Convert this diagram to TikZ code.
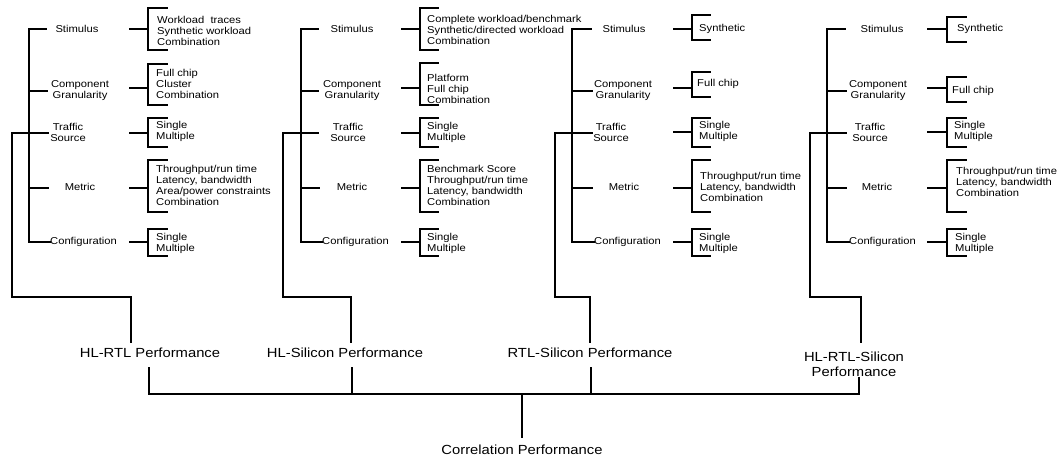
\documentclass[tikz,border=0pt]{standalone}
\usepackage{fontspec}
\setmainfont{Liberation Sans}[FakeStretch=1.12]
\begin{document}
\begin{tikzpicture}[x=1pt,y=-1pt,
  ln/.style={line width=2.5pt,line cap=rect},
  bus/.style={line width=2pt},
  lab/.style={font=\fontsize{10}{11}\selectfont,inner sep=0pt,align=center},
  lst/.style={font=\fontsize{10}{11}\selectfont,inner sep=0pt,align=left,anchor=west},
  big/.style={font=\fontsize{13.2}{15}\selectfont,inner sep=0pt,align=center}]
\useasboundingbox (0,0) rectangle (1058,457);
\fill[white] (0,0) rectangle (1058,457);

% ================= Panel 1 =================
\draw[ln] (29,29) -- (29,242);
\draw[ln] (29,29) -- (46,29);
\draw[ln] (29,91) -- (47,91);
\draw[ln] (29,133) -- (48,133);
\draw[ln] (29,188) -- (48,188);
\draw[ln] (29,242) -- (50,242);
\draw[ln] (29,133) -- (12,133) -- (12,297) -- (131,297) -- (131,342);
\node[lab] (a1) at (77,29) {Stimulus};
\node[lab] (a2) at (80,91) {Component\\Granularity};
\node[lab] (a3) at (68,132) {Traffic\\Source};
\node[lab] (a4) at (80,187) {Metric};
\node[lab,anchor=west] (a5) at (50,242) {Configuration};
\draw[ln] (130,29) -- (148,29);  \draw[ln] (167,8) -- (148,8) -- (148,50) -- (167,50);
\draw[ln] (130,88) -- (148,88);  \draw[ln] (167,64) -- (148,64) -- (148,105) -- (167,105);
\draw[ln] (130,133) -- (148,133); \draw[ln] (167,118) -- (148,118) -- (148,147) -- (167,147);
\draw[ln] (130,188) -- (148,188); \draw[ln] (167,160) -- (148,160) -- (148,212) -- (167,212);
\draw[ln] (130,242) -- (148,242); \draw[ln] (167,229) -- (148,229) -- (148,256) -- (167,256);
\node[lst] (l11) at (157,31) {Workload\ \ traces\\Synthetic workload\\Combination};
\node[lst] (l12) at (156,84) {Full chip\\Cluster\\Combination};
\node[lst] (l13) at (156,131) {Single\\Multiple};
\node[lst] (l14) at (156,185) {Throughput/run time\\Latency, bandwidth\\Area/power constraints\\Combination};
\node[lst] (l15) at (156,243) {Single\\Multiple};

% ================= Panel 2 =================
\draw[ln] (301,29) -- (301,242);
\draw[ln] (301,29) -- (318,29);
\draw[ln] (301,91) -- (318,91);
\draw[ln] (301,133) -- (318,133);
\draw[ln] (301,188) -- (319,188);
\draw[ln] (301,242) -- (322,242);
\draw[ln] (301,133) -- (283,133) -- (283,297) -- (351,297) -- (351,342);
\node[lab] (b1) at (352,29) {Stimulus};
\node[lab] (b2) at (352,91) {Component\\Granularity};
\node[lab] (b3) at (348,132) {Traffic\\Source};
\node[lab] (b4) at (352,187) {Metric};
\node[lab,anchor=west] (b5) at (322,242) {Configuration};
\draw[ln] (402,29) -- (420,29);  \draw[ln] (438,8) -- (420,8) -- (420,50) -- (438,50);
\draw[ln] (402,88) -- (420,88);  \draw[ln] (438,63) -- (420,63) -- (420,105) -- (438,105);
\draw[ln] (402,133) -- (420,133); \draw[ln] (438,118) -- (420,118) -- (420,147) -- (438,147);
\draw[ln] (402,188) -- (420,188); \draw[ln] (438,160) -- (420,160) -- (420,212) -- (438,212);
\draw[ln] (402,242) -- (420,242); \draw[ln] (438,229) -- (420,229) -- (420,256) -- (438,256);
\node[lst] (l21) at (427,30) {Complete workload/benchmark\\Synthetic/directed workload\\Combination};
\node[lst] (l22) at (427,89) {Platform\\Full chip\\Combination};
\node[lst] (l23) at (427,132) {Single\\Multiple};
\node[lst] (l24) at (427,185) {Benchmark Score\\Throughput/run time\\Latency, bandwidth\\Combination};
\node[lst] (l25) at (427,243) {Single\\Multiple};

% ================= Panel 3 =================
\draw[ln] (572,29) -- (572,242);
\draw[ln] (572,29) -- (591,29);
\draw[ln] (572,91) -- (592,91);
\draw[ln] (572,133) -- (592,133);
\draw[ln] (572,188) -- (592,188);
\draw[ln] (572,242) -- (594,242);
\draw[ln] (572,133) -- (555,133) -- (555,297) -- (590,297) -- (590,342);
\node[lab] (c1) at (624,29) {Stimulus};
\node[lab] (c2) at (623,91) {Component\\Granularity};
\node[lab] (c3) at (611,132) {Traffic\\Source};
\node[lab] (c4) at (624,187) {Metric};
\node[lab,anchor=west] (c5) at (594,242) {Configuration};
\draw[ln] (674,29) -- (692,29);  \draw[ln] (710,15) -- (692,15) -- (692,40) -- (710,40);
\draw[ln] (674,88) -- (692,88);  \draw[ln] (710,72) -- (692,72) -- (692,97) -- (710,97);
\draw[ln] (674,132) -- (692,132); \draw[ln] (710,118) -- (692,118) -- (692,147) -- (710,147);
\draw[ln] (674,188) -- (692,188); \draw[ln] (710,160) -- (692,160) -- (692,212) -- (710,212);
\draw[ln] (674,242) -- (692,242); \draw[ln] (710,229) -- (692,229) -- (692,256) -- (710,256);
\node[lst] (l31) at (699,29) {Synthetic};
\node[lst] (l32) at (697,84) {Full chip};
\node[lst] (l33) at (699,131) {Single\\Multiple};
\node[lst] (l34) at (700,187) {Throughput/run time\\Latency, bandwidth\\Combination};
\node[lst] (l35) at (699,243) {Single\\Multiple};

% ================= Panel 4 =================
\draw[ln] (827,29) -- (827,242);
\draw[ln] (827,29) -- (845,29);
\draw[ln] (827,91) -- (846,91);
\draw[ln] (827,133) -- (846,133);
\draw[ln] (827,188) -- (846,188);
\draw[ln] (827,242) -- (849,242);
\draw[ln] (827,133) -- (810,133) -- (810,297) -- (861,297) -- (861,342);
\node[lab] (d1) at (882,29) {Stimulus};
\node[lab] (d2) at (878,91) {Component\\Granularity};
\node[lab] (d3) at (870,132) {Traffic\\Source};
\node[lab] (d4) at (877,187) {Metric};
\node[lab,anchor=west] (d5) at (849,242) {Configuration};
\draw[ln] (928,29) -- (947,29);  \draw[ln] (966,17) -- (947,17) -- (947,42) -- (966,42);
\draw[ln] (928,88) -- (947,88);  \draw[ln] (966,77) -- (947,77) -- (947,102) -- (966,102);
\draw[ln] (928,132) -- (947,132); \draw[ln] (966,118) -- (947,118) -- (947,147) -- (966,147);
\draw[ln] (928,188) -- (947,188); \draw[ln] (966,160) -- (947,160) -- (947,212) -- (966,212);
\draw[ln] (928,242) -- (947,242); \draw[ln] (966,229) -- (947,229) -- (947,256) -- (966,256);
\node[lst] (l41) at (957,29) {Synthetic};
\node[lst] (l42) at (952,91) {Full chip};
\node[lst] (l43) at (954,131) {Single\\Multiple};
\node[lst] (l44) at (956,182) {Throughput/run time\\Latency, bandwidth\\Combination};
\node[lst] (l45) at (955,243) {Single\\Multiple};

% ================= Bottom =================
\node[big] (p1) at (150,353) {HL-RTL Performance};
\node[big] (p2) at (345,353) {HL-Silicon Performance};
\node[big] (p3) at (590,353) {RTL-Silicon Performance};
\node[big] (p4) at (854,364) {HL-RTL-Silicon\\Performance};
\node[big] (cp) at (522,450) {Correlation Performance};
\coordinate (j1) at (149,394);
\coordinate (j2) at (352,394);
\coordinate (j3) at (591,394);
\coordinate (j4) at (859,394);
\coordinate (jc) at (522,394);
\draw[bus] (149,367) -- (j1) -- (j4) -- (859,377);
\draw[bus] (352,367) -- (j2);
\draw[bus] (591,367) -- (j3);
\draw[bus] (jc) -- (522,438);
\end{tikzpicture}
\end{document}
